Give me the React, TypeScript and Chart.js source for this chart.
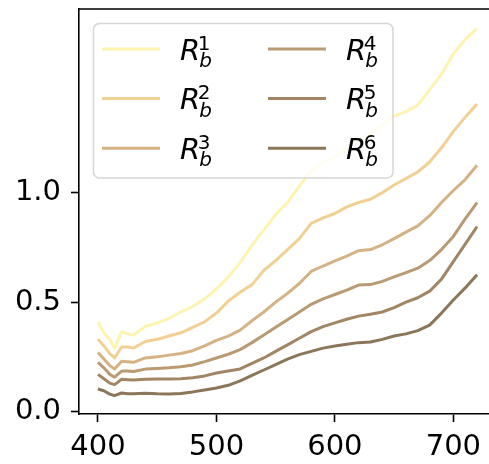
import { useEffect, useRef } from "react";
import { Chart, registerables } from "chart.js";

Chart.register(...registerables);

const wavelengths = [400, 405, 410, 414, 420, 425, 430, 440, 450, 460, 470, 480, 490, 500, 510, 520, 530, 540, 550, 560, 570, 580, 590, 600, 610, 620, 630, 640, 650, 660, 670, 680, 690, 700, 710, 720];

const rb1 = [0.41, 0.36, 0.33, 0.29, 0.365, 0.355, 0.35, 0.39, 0.405, 0.425, 0.455, 0.48, 0.515, 0.56, 0.615, 0.68, 0.76, 0.83, 0.9, 0.955, 1.03, 1.1, 1.14, 1.165, 1.2, 1.24, 1.27, 1.31, 1.35, 1.37, 1.4, 1.47, 1.54, 1.635, 1.7, 1.75];
const rb2 = [0.33, 0.3, 0.265, 0.245, 0.295, 0.295, 0.29, 0.32, 0.33, 0.345, 0.36, 0.385, 0.41, 0.45, 0.505, 0.545, 0.58, 0.645, 0.69, 0.74, 0.79, 0.86, 0.885, 0.905, 0.935, 0.955, 0.97, 1.0, 1.035, 1.065, 1.095, 1.14, 1.205, 1.28, 1.345, 1.405];
const rb3 = [0.27, 0.24, 0.21, 0.195, 0.23, 0.228, 0.225, 0.245, 0.25, 0.258, 0.265, 0.278, 0.3, 0.325, 0.345, 0.372, 0.415, 0.455, 0.5, 0.54, 0.585, 0.64, 0.665, 0.688, 0.71, 0.735, 0.74, 0.762, 0.79, 0.82, 0.848, 0.895, 0.955, 1.01, 1.06, 1.125];
const rb4 = [0.225, 0.2, 0.17, 0.157, 0.185, 0.185, 0.183, 0.194, 0.197, 0.2, 0.205, 0.213, 0.228, 0.245, 0.262, 0.283, 0.315, 0.35, 0.385, 0.42, 0.455, 0.49, 0.515, 0.535, 0.555, 0.578, 0.58, 0.595, 0.615, 0.635, 0.655, 0.69, 0.74, 0.8, 0.88, 0.955];
const rb5 = [0.17, 0.15, 0.13, 0.123, 0.148, 0.146, 0.144, 0.148, 0.149, 0.149, 0.15, 0.155, 0.163, 0.176, 0.185, 0.195, 0.22, 0.245, 0.275, 0.305, 0.335, 0.365, 0.388, 0.405, 0.422, 0.436, 0.445, 0.455, 0.475, 0.5, 0.52, 0.55, 0.605, 0.685, 0.765, 0.845];
const rb6 = [0.103, 0.095, 0.08, 0.073, 0.085, 0.082, 0.081, 0.084, 0.081, 0.08, 0.083, 0.09, 0.099, 0.108, 0.12, 0.14, 0.165, 0.19, 0.215, 0.24, 0.26, 0.275, 0.29, 0.3, 0.308, 0.315, 0.318, 0.33, 0.345, 0.355, 0.37, 0.395, 0.45, 0.51, 0.565, 0.625];

const seriesValues = [rb1, rb2, rb3, rb4, rb5, rb6];
const seriesSup = ["1", "2", "3", "4", "5", "6"];
const seriesColors = ["#fff3b0", "#f2d093", "#d5b283", "#b99a72", "#a28664", "#8b7659"];

const xTickValues = [400, 500, 600, 700];
const yTickValues = [0, 0.5, 1.0];

const FONT = '"DejaVu Sans", sans-serif';

const frameAndLegend = {
  id: "frameAndLegend",
  afterDatasetsDraw(chart: any) {
    const ctx: CanvasRenderingContext2D = chart.ctx;
    const a = chart.chartArea;
    ctx.save();
    ctx.strokeStyle = "#000";
    ctx.lineWidth = 1.6;
    ctx.beginPath();
    ctx.moveTo(a.left, a.top);
    ctx.lineTo(a.right, a.top);
    ctx.lineTo(a.right, a.bottom);
    ctx.stroke();

    const bx = 93.5, by = 23.5, bw = 299.5, bh = 154.5, r = 6;
    ctx.beginPath();
    ctx.moveTo(bx + r, by);
    ctx.lineTo(bx + bw - r, by);
    ctx.arcTo(bx + bw, by, bx + bw, by + r, r);
    ctx.lineTo(bx + bw, by + bh - r);
    ctx.arcTo(bx + bw, by + bh, bx + bw - r, by + bh, r);
    ctx.lineTo(bx + r, by + bh);
    ctx.arcTo(bx, by + bh, bx, by + bh - r, r);
    ctx.lineTo(bx, by + r);
    ctx.arcTo(bx, by, bx + r, by, r);
    ctx.closePath();
    ctx.fillStyle = "rgba(255,255,255,0.8)";
    ctx.fill();
    ctx.strokeStyle = "#d6d6d6";
    ctx.lineWidth = 1.5;
    ctx.stroke();

    const ds = chart.data.datasets;
    ds.forEach((d: any, i: number) => {
      const col = Math.floor(i / 3);
      const row = i % 3;
      const ly = 49 + row * 49.6;
      const lx0 = col === 0 ? 102 : 268;
      ctx.strokeStyle = d.borderColor;
      ctx.lineWidth = 3;
      ctx.lineCap = "butt";
      ctx.beginPath();
      ctx.moveTo(lx0, ly);
      ctx.lineTo(lx0 + 58, ly);
      ctx.stroke();

      const tx = col === 0 ? 180 : 346;
      const base = ly + 10.5;
      ctx.fillStyle = "#000";
      ctx.textBaseline = "alphabetic";
      ctx.textAlign = "left";
      ctx.font = "italic 29px " + FONT;
      ctx.fillText("R", tx, base);
      const w = ctx.measureText("R").width;
      ctx.font = "20px " + FONT;
      ctx.fillText(d.label, tx + w - 2.5, base - 10);
      ctx.font = "italic 20px " + FONT;
      ctx.fillText("b", tx + w - 1, base + 7.7);
    });
    ctx.restore();
  },
};

export default function App() {
  const ref = useRef<HTMLCanvasElement | null>(null);
  useEffect(() => {
    if (!ref.current) return;
    const chart = new Chart(ref.current, {
      type: "line",
      data: {
        datasets: seriesValues.map((vals, i) => ({
          label: seriesSup[i],
          data: wavelengths.map((x, j) => ({ x, y: vals[j] })),
          borderColor: seriesColors[i],
          backgroundColor: seriesColors[i],
          borderWidth: 3,
          pointRadius: 0,
          tension: 0,
          borderJoinStyle: "round" as const,
          fill: false,
        })),
      },
      options: {
        responsive: false,
        animation: false,
        layout: { padding: { top: 9, right: 24, left: 0, bottom: 0 } },
        plugins: { legend: { display: false }, tooltip: { enabled: false } },
        scales: {
          x: {
            type: "linear",
            min: 384,
            max: 736,
            afterBuildTicks: (s: any) => {
              s.ticks = xTickValues.map((v) => ({ value: v }));
            },
            afterFit: (s: any) => {
              s.height = 50;
              s.paddingLeft = 0;
              s.paddingRight = 0;
            },
            grid: { drawOnChartArea: false, drawTicks: true, tickLength: 8, tickColor: "#000", tickWidth: 1.6 },
            border: { display: true, color: "#000", width: 1.6 },
            ticks: { color: "#000", font: { family: FONT, size: 29, lineHeight: 1.2 }, padding: 8, maxRotation: 0 },
          },
          y: {
            type: "linear",
            min: -0.011,
            max: 1.839,
            afterBuildTicks: (s: any) => {
              s.ticks = yTickValues.map((v) => ({ value: v }));
            },
            afterFit: (s: any) => {
              s.width = 79;
              s.paddingTop = 0;
              s.paddingBottom = 0;
            },
            grid: { drawOnChartArea: false, drawTicks: true, tickLength: 8, tickColor: "#000", tickWidth: 1.6 },
            border: { display: true, color: "#000", width: 1.6 },
            ticks: {
              color: "#000",
              font: { family: FONT, size: 29 },
              padding: 10,
              callback: (v: any) => Number(v).toFixed(1),
            },
          },
        },
      },
      plugins: [frameAndLegend],
    });
    return () => chart.destroy();
  }, []);
  return (
    <div style={{ position: "fixed", left: 0, top: 0, width: 489, height: 464, overflow: "hidden", background: "#fff" }}>
      <canvas ref={ref} width={520} height={464} style={{ width: 520, height: 464, display: "block" }} />
    </div>
  );
}
